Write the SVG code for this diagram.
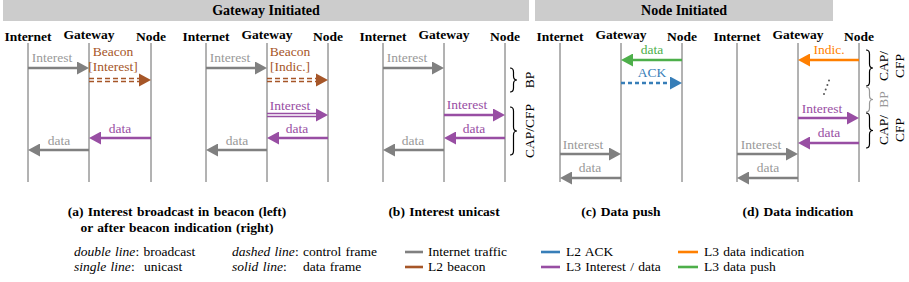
<svg xmlns="http://www.w3.org/2000/svg" width="909" height="282" viewBox="0 0 909 282" font-family="'Liberation Serif','Times New Roman',serif">
<style>
text{font-family:"Liberation Serif","Times New Roman",serif;}
.hdr{font-size:14px;font-weight:bold;text-anchor:middle;fill:#000}
.col{font-size:13.5px;font-weight:bold;text-anchor:middle;fill:#000}
.lbl{font-size:13.5px;text-anchor:middle}
.cap{font-size:13.5px;font-weight:bold;text-anchor:middle;fill:#000;word-spacing:1px}
.leg{font-size:13.5px;fill:#000;word-spacing:1px}
.life{stroke:#666;stroke-width:1;fill:none}
.ar{stroke-width:2.6;fill:none}
.thin{stroke-width:1.3;fill:none}
.dash{stroke-dasharray:5 3}
.dash2{stroke-dasharray:4 3;stroke-width:2.6;fill:none}
.g{stroke:#808080}.gf{fill:#999}.gt{fill:#808080}
.br{stroke:#a65628}.brf{fill:#a65628}
.pu{stroke:#984ea3}.puf{fill:#984ea3}
.bl{stroke:#377eb8}.blf{fill:#377eb8}
.or{stroke:#ff7f00}.orf{fill:#ff7f00}
.gr{stroke:#4daf4a}.grf{fill:#4daf4a}
.brace{fill:none;stroke:#000;stroke-width:1.2}
.rot{font-size:13.5px;text-anchor:middle;fill:#000}
</style>
<defs>
<marker id="m-g" viewBox="0 0 12 13" markerWidth="12" markerHeight="13" refX="0" refY="6.5" orient="auto" markerUnits="userSpaceOnUse"><path d="M0,0 L12,6.5 L0,13 z" fill="#808080"/></marker>
<marker id="m-pu" viewBox="0 0 12 13" markerWidth="12" markerHeight="13" refX="0" refY="6.5" orient="auto" markerUnits="userSpaceOnUse"><path d="M0,0 L12,6.5 L0,13 z" fill="#984ea3"/></marker>
<marker id="m-bl" viewBox="0 0 12 13" markerWidth="12" markerHeight="13" refX="0" refY="6.5" orient="auto" markerUnits="userSpaceOnUse"><path d="M0,0 L12,6.5 L0,13 z" fill="#377eb8"/></marker>
<marker id="m-or" viewBox="0 0 12 13" markerWidth="12" markerHeight="13" refX="0" refY="6.5" orient="auto" markerUnits="userSpaceOnUse"><path d="M0,0 L12,6.5 L0,13 z" fill="#ff7f00"/></marker>
<marker id="m-gr" viewBox="0 0 12 13" markerWidth="12" markerHeight="13" refX="0" refY="6.5" orient="auto" markerUnits="userSpaceOnUse"><path d="M0,0 L12,6.5 L0,13 z" fill="#4daf4a"/></marker>
</defs>

<g id="headers">
<rect x="3" y="0" width="526" height="21" fill="#cccccc"/>
<rect x="535" y="0" width="298" height="21" fill="#cccccc"/>
<text class="hdr" x="266" y="15">Gateway Initiated</text>
<text class="hdr" x="684" y="15">Node Initiated</text>
</g>

<g id="lifelines">
<g id="a-left-nodes">
<text class="col" x="28" y="41">Internet</text><text class="col" x="89" y="39">Gateway</text><text class="col" x="151" y="41">Node</text>
<line class="life" x1="28" y1="43" x2="28" y2="182"/><line class="life" x1="89" y1="43" x2="89" y2="182"/><line class="life" x1="151" y1="43" x2="151" y2="182"/>
</g>
<g id="a-right-nodes">
<text class="col" x="206" y="41">Internet</text><text class="col" x="267" y="39">Gateway</text><text class="col" x="328" y="41">Node</text>
<line class="life" x1="206" y1="43" x2="206" y2="182"/><line class="life" x1="267" y1="43" x2="267" y2="182"/><line class="life" x1="328" y1="43" x2="328" y2="182"/>
</g>
<g id="b-nodes">
<text class="col" x="383" y="41">Internet</text><text class="col" x="444" y="39">Gateway</text><text class="col" x="505" y="41">Node</text>
<line class="life" x1="383" y1="43" x2="383" y2="182"/><line class="life" x1="444" y1="43" x2="444" y2="182"/><line class="life" x1="505" y1="43" x2="505" y2="182"/>
</g>
<g id="c-nodes">
<text class="col" x="560" y="41">Internet</text><text class="col" x="621" y="39">Gateway</text><text class="col" x="682" y="41">Node</text>
<line class="life" x1="560" y1="43" x2="560" y2="182"/><line class="life" x1="621" y1="43" x2="621" y2="182"/><line class="life" x1="682" y1="43" x2="682" y2="182"/>
</g>
<g id="d-nodes">
<text class="col" x="737" y="41">Internet</text><text class="col" x="798" y="39">Gateway</text><text class="col" x="859" y="41">Node</text>
<line class="life" x1="737" y1="43" x2="737" y2="182"/><line class="life" x1="798" y1="43" x2="798" y2="182"/><line class="life" x1="859" y1="43" x2="859" y2="182"/>
</g>
</g>

<g id="connectors">
<!-- a-left -->
<line class="ar g" x1="28" y1="68" x2="77" y2="68" marker-end="url(#m-g)"/>
<text class="lbl gf" x="52" y="62">Interest</text>
<line class="thin br dash" x1="89" y1="78.5" x2="139" y2="78.5"/><line class="thin br dash" x1="89" y1="81.5" x2="139" y2="81.5"/>
<polygon class="brf" points="139,73.5 151,80 139,86.5"/>
<text class="lbl brf" x="113" y="56">Beacon</text><text class="lbl brf" x="113" y="71">[Interest]</text>
<line class="ar pu" x1="151" y1="138" x2="101" y2="138" marker-end="url(#m-pu)"/>
<text class="lbl puf" x="120" y="133">data</text>
<line class="ar g" x1="89" y1="150" x2="40" y2="150" marker-end="url(#m-g)"/>
<text class="lbl gf" x="59" y="145">data</text>

<!-- a-right -->
<line class="ar g" x1="206" y1="68" x2="255" y2="68" marker-end="url(#m-g)"/>
<text class="lbl gf" x="230" y="62">Interest</text>
<line class="thin br dash" x1="267" y1="78.5" x2="316" y2="78.5"/><line class="thin br dash" x1="267" y1="81.5" x2="316" y2="81.5"/>
<polygon class="brf" points="316,73.5 328,80 316,86.5"/>
<text class="lbl brf" x="290" y="56">Beacon</text><text class="lbl brf" x="290" y="71">[Indic.]</text>
<line class="thin pu" x1="267" y1="113.5" x2="316" y2="113.5"/><line class="thin pu" x1="267" y1="116.5" x2="316" y2="116.5"/>
<polygon class="puf" points="316,108.5 328,115 316,121.5"/>
<text class="lbl puf" x="290" y="110">Interest</text>
<line class="ar pu" x1="328" y1="138" x2="279" y2="138" marker-end="url(#m-pu)"/>
<text class="lbl puf" x="297" y="133">data</text>
<line class="ar g" x1="267" y1="150" x2="218" y2="150" marker-end="url(#m-g)"/>
<text class="lbl gf" x="237" y="145">data</text>

<!-- b -->
<line class="ar g" x1="383" y1="68" x2="432" y2="68" marker-end="url(#m-g)"/>
<text class="lbl gf" x="407" y="62">Interest</text>
<line class="ar pu" x1="444" y1="115" x2="493" y2="115" marker-end="url(#m-pu)"/>
<text class="lbl puf" x="467" y="109">Interest</text>
<line class="ar pu" x1="505" y1="138" x2="456" y2="138" marker-end="url(#m-pu)"/>
<text class="lbl puf" x="474" y="133">data</text>
<line class="ar g" x1="444" y1="150" x2="395" y2="150" marker-end="url(#m-g)"/>
<text class="lbl gf" x="413" y="145">data</text>

<!-- c -->
<line class="ar gr" x1="682" y1="60" x2="633" y2="60" marker-end="url(#m-gr)"/>
<text class="lbl grf" x="652" y="54">data</text>
<line class="dash2 bl" x1="621" y1="83" x2="670" y2="83" marker-end="url(#m-bl)"/>
<text class="lbl blf" x="652" y="77">ACK</text>
<line class="ar g" x1="560" y1="154" x2="609" y2="154" marker-end="url(#m-g)"/>
<text class="lbl gf" x="583" y="149">Interest</text>
<line class="ar g" x1="621" y1="178" x2="572" y2="178" marker-end="url(#m-g)"/>
<text class="lbl gf" x="590" y="172">data</text>

<!-- d -->
<line class="ar or" x1="859" y1="60" x2="810" y2="60" marker-end="url(#m-or)"/>
<text class="lbl orf" x="829" y="54">Indic.</text>
<g fill="#555"><circle cx="824" cy="94" r="1"/><circle cx="825.7" cy="89.5" r="1"/><circle cx="827.4" cy="85" r="1"/><circle cx="829" cy="80.5" r="1"/></g>
<line class="ar pu" x1="798" y1="118" x2="847" y2="118" marker-end="url(#m-pu)"/>
<text class="lbl puf" x="822" y="113">Interest</text>
<line class="ar pu" x1="859" y1="143" x2="810" y2="143" marker-end="url(#m-pu)"/>
<text class="lbl puf" x="829" y="137">data</text>
<line class="ar g" x1="737" y1="154" x2="786" y2="154" marker-end="url(#m-g)"/>
<text class="lbl gf" x="761" y="149">Interest</text>
<line class="ar g" x1="798" y1="178" x2="749" y2="178" marker-end="url(#m-g)"/>
<text class="lbl gf" x="768" y="172">data</text>
</g>

<g id="braces">
<path class="brace" d="M510 68 Q513.5 68 513.5 72 L513.5 76 Q513.5 80 517 80 Q513.5 80 513.5 84 L513.5 88 Q513.5 92 510 92"/>
<text class="rot" transform="translate(534,80) rotate(-90)">BP</text>
<path class="brace" d="M510 107 Q513.5 107 513.5 111 L513.5 127 Q513.5 131 517 131 Q513.5 131 513.5 135 L513.5 151 Q513.5 155 510 155"/>
<text class="rot" transform="translate(534,131) rotate(-90)">CAP/CFP</text>

<path class="brace" d="M866 50 Q869.5 50 869.5 54 L869.5 64 Q869.5 68 873 68 Q869.5 68 869.5 72 L869.5 82 Q869.5 86 866 86"/>
<text class="rot" transform="translate(888,66) rotate(-90)">CAP/</text>
<text class="rot" transform="translate(904,66) rotate(-90)">CFP</text>
<path class="brace" style="stroke:#999" d="M866 87 Q869.5 87 869.5 91 L869.5 95.5 Q869.5 99.5 873 99.5 Q869.5 99.5 869.5 103.5 L869.5 108 Q869.5 112 866 112"/>
<text class="rot" style="fill:#999" transform="translate(888,99.5) rotate(-90)">BP</text>
<path class="brace" d="M866 113 Q869.5 113 869.5 117 L869.5 126.5 Q869.5 130.5 873 130.5 Q869.5 130.5 869.5 134.5 L869.5 144 Q869.5 148 866 148"/>
<text class="rot" transform="translate(888,130) rotate(-90)">CAP/</text>
<text class="rot" transform="translate(904,130) rotate(-90)">CFP</text>
</g>

<g id="captions">
<text class="cap" x="177" y="216">(a) Interest broadcast in beacon (left)</text>
<text class="cap" x="177" y="232">or after beacon indication (right)</text>
<text class="cap" x="444" y="216">(b) Interest unicast</text>
<text class="cap" x="621" y="216">(c) Data push</text>
<text class="cap" x="798" y="216">(d) Data indication</text>
</g>

<g id="legend">
<text class="leg" x="74" y="256"><tspan font-style="italic">double line</tspan>: broadcast</text>
<text class="leg" x="74" y="271"><tspan font-style="italic">single line</tspan>:</text>
<text class="leg" x="144" y="271">unicast</text>
<text class="leg" x="232" y="256"><tspan font-style="italic">dashed line</tspan>: control frame</text>
<text class="leg" x="232" y="271"><tspan font-style="italic">solid line</tspan>:</text>
<text class="leg" x="303" y="271">data frame</text>
<line x1="405" y1="252" x2="423" y2="252" stroke="#808080" stroke-width="2.6"/>
<text class="leg" x="428" y="256">Internet traffic</text>
<line x1="405" y1="267" x2="423" y2="267" stroke="#a65628" stroke-width="2.6"/>
<text class="leg" x="428" y="271">L2 beacon</text>
<line x1="541" y1="252" x2="560" y2="252" stroke="#377eb8" stroke-width="2.6"/>
<text class="leg" x="566" y="256">L2 ACK</text>
<line x1="541" y1="267" x2="560" y2="267" stroke="#984ea3" stroke-width="2.6"/>
<text class="leg" x="566" y="271">L3 Interest / data</text>
<line x1="678" y1="252" x2="698" y2="252" stroke="#ff7f00" stroke-width="2.6"/>
<text class="leg" x="704" y="256">L3 data indication</text>
<line x1="678" y1="267" x2="698" y2="267" stroke="#4daf4a" stroke-width="2.6"/>
<text class="leg" x="704" y="271">L3 data push</text>
</g>
</svg>
